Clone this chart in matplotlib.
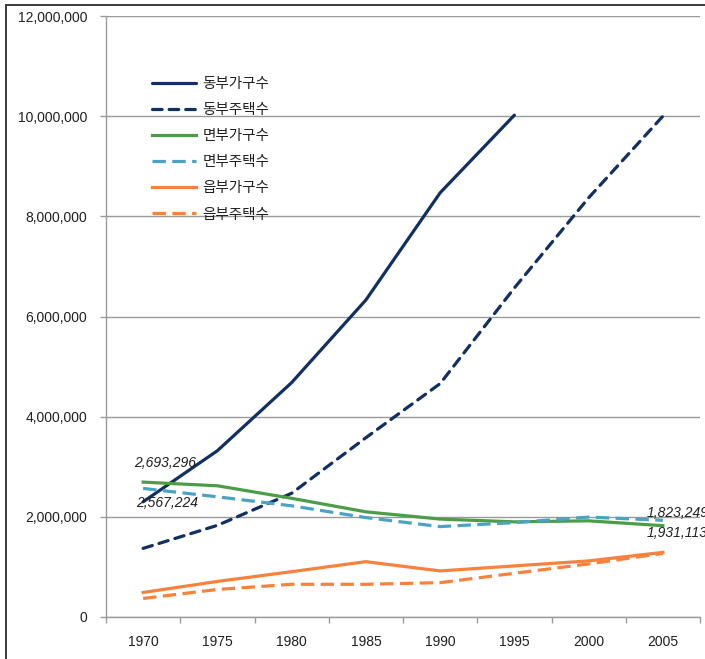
import numpy as np
import matplotlib
matplotlib.use("Agg")
import matplotlib.pyplot as plt
from matplotlib.patches import Rectangle
from matplotlib.ticker import FuncFormatter, FixedLocator

plt.rcParams['font.family'] = ['Noto Sans CJK KR', 'DejaVu Sans']

years = ['1970', '1975', '1980', '1985', '1990', '1995', '2000', '2005']

dong_households = [2300000, 3320000, 4680000, 6330000, 8470000, 10020000, np.nan, np.nan]
dong_houses = [1370000, 1830000, 2470000, 3580000, 4660000, 6570000, 8370000, 10000000]
myeon_households = [2693296, 2620000, 2370000, 2100000, 1955000, 1900000, 1920000, 1823249]
myeon_houses = [2567224, 2400000, 2220000, 1985000, 1805000, 1885000, 1995000, 1931113]
eup_households = [490000, 710000, 905000, 1105000, 920000, 1020000, 1120000, 1290000]
eup_houses = [370000, 550000, 653000, 653000, 686000, 873000, 1060000, 1270000]

series_names = ['동부가구수', '동부주택수', '면부가구수', '면부주택수', '읍부가구수', '읍부주택수']

navy = '#102F63'
green = '#4B9E47'
teal = '#4BA3C3'
orange = '#F8823C'

W, H = 705, 659
fig = plt.figure(figsize=(W / 100, H / 100), dpi=100)
ax = fig.add_axes([106 / W, (H - 617) / H, 594 / W, 601 / H])

x = np.arange(len(years))
lw = 2.3
ax.plot(x, dong_households, color=navy, lw=lw, solid_capstyle='round', label=series_names[0])
ax.plot(x, dong_houses, color=navy, lw=lw, dashes=(3.0, 2.2), dash_capstyle='round', label=series_names[1])
ax.plot(x, myeon_households, color=green, lw=lw, label=series_names[2])
ax.plot(x, myeon_houses, color=teal, lw=lw, dashes=(4.2, 2.0), label=series_names[3])
ax.plot(x, eup_households, color=orange, lw=lw, label=series_names[4])
ax.plot(x, eup_houses, color=orange, lw=lw, dashes=(4.2, 2.0), label=series_names[5])

ax.set_xlim(-0.5, len(years) - 0.5)
ax.set_ylim(0, 12000000)
ax.set_yticks(np.arange(0, 12000001, 2000000))
ax.yaxis.set_major_formatter(FuncFormatter(lambda v, p: f'{int(v):,}'))
ax.set_xticks(x)
ax.set_xticklabels(years)
ax.xaxis.set_minor_locator(FixedLocator(np.arange(-0.5, len(years), 1.0)))

grid_col = '#9a9a9a'
ax.grid(axis='y', color=grid_col, lw=1.0)
ax.set_axisbelow(True)
for s in ['top', 'right']:
    ax.spines[s].set_visible(False)
for s in ['left', 'bottom']:
    ax.spines[s].set_color(grid_col)
    ax.spines[s].set_linewidth(1.0)

ax.tick_params(axis='y', which='major', length=4.5, width=1.0, color=grid_col,
               pad=9, labelsize=10, labelcolor='#202020')
ax.tick_params(axis='x', which='major', length=0, pad=13, labelsize=10, labelcolor='#202020')
ax.tick_params(axis='x', which='minor', length=4.5, width=1.0, color=grid_col)
for lab in ax.get_yticklabels() + ax.get_xticklabels():
    lab.set_family(['Liberation Sans', 'DejaVu Sans'])

# value labels at the first and last points of the 면부 series
lab_kw = dict(textcoords='offset pixels', ha='left', va='center', fontsize=10,
              style='italic', family=['Liberation Sans'], color='#202020', annotation_clip=False)
ax.annotate(f'{myeon_households[0]:,}', (x[0], myeon_households[0]), xytext=(-9, 19), **lab_kw)
ax.annotate(f'{myeon_houses[0]:,}', (x[0], myeon_houses[0]), xytext=(-7, -15), **lab_kw)
ax.annotate(f'{myeon_households[-1]:,}', (x[-1], myeon_households[-1]), xytext=(-16, 13), **lab_kw)
ax.annotate(f'{myeon_houses[-1]:,}', (x[-1], myeon_houses[-1]), xytext=(-16, -13), **lab_kw)

leg = ax.legend(loc='upper left', bbox_to_anchor=(152 / W, (H - 77) / H),
                bbox_transform=fig.transFigure, frameon=False, fontsize=10.5,
                handlelength=3.0, handletextpad=0.45, labelspacing=0.83,
                borderaxespad=0, borderpad=0)
for t in leg.get_texts():
    t.set_color('#202020')

# chart frame
fig.patches.append(Rectangle((6 / W, -0.1), 1.2, (H - 5) / H + 0.1, transform=fig.transFigure,
                             fill=False, ec='#3a3a3a', lw=1.4, zorder=0))

fig.savefig('out.png', dpi=100)
